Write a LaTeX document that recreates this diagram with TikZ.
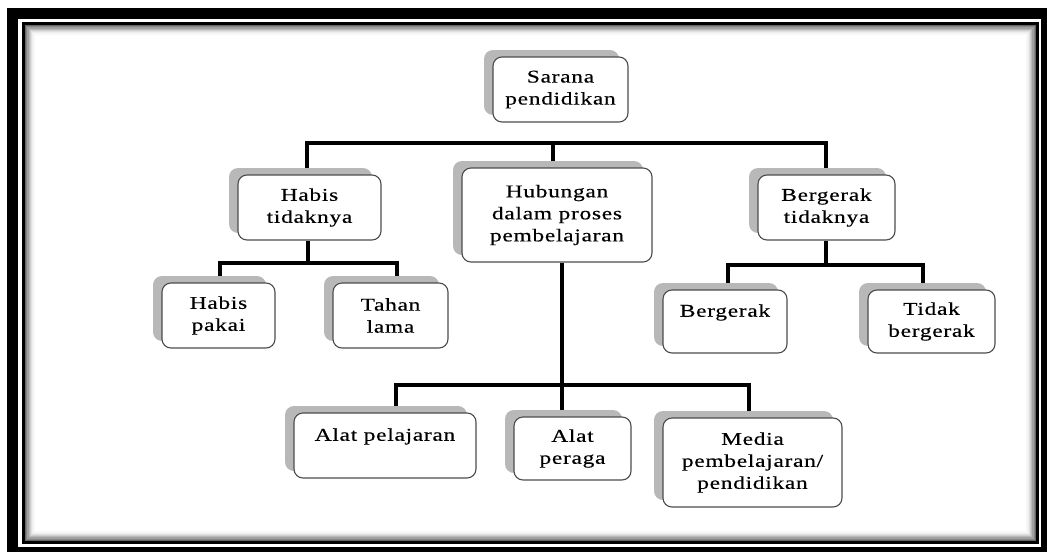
\documentclass[tikz,border=0pt]{standalone}
\usepackage{fontspec}
\setmainfont{Liberation Serif}[FakeStretch=1.3,LetterSpace=4,FakeBold=0.4]
\usetikzlibrary{shadows,backgrounds}
\tikzset{
  box/.style={draw=black!70, line width=1.1pt, fill=white, rounded corners=9pt,
    align=center, inner sep=0pt, font=\fontsize{18}{22}\selectfont,
    drop shadow={shadow xshift=-9pt, shadow yshift=7pt, fill=black!28, opacity=1}},
  conn/.style={draw=black, line width=4pt}
}
\begin{document}
\begin{tikzpicture}[x=1pt,y=-1pt]
\useasboundingbox (0,0) rectangle (1047,552);
\begin{pgfonlayer}{background}
  \fill[white] (0,0) rectangle (1047,552);
  \fill[black] (7,8) rectangle (1047,552);
  \fill[white] (18,19) rectangle (1041,547);
  \draw[black, line width=3pt] (23.5,23.5) rectangle (1037.5,542.5);
  \foreach \i/\c in {0/60,1/48,2/37,3/27,4/19,5/12,6/7,7/3}{
    \draw[black!\c, line width=1.2pt] (25.6+1.2*\i,25.6+1.2*\i) rectangle (1035.4-1.2*\i,540.4-1.2*\i);
  }
\end{pgfonlayer}

\node[box, minimum width=135pt, minimum height=65pt] (sarana) at (560.5,89.5) {Sarana\\pendidikan};
\node[box, minimum width=190pt, minimum height=94pt] (hub) at (557,215) {Hubungan\\dalam proses\\pembelajaran};
\node[box, minimum width=143pt, minimum height=65pt] (habist) at (309.5,207.5) {Habis\\tidaknya};
\node[box, minimum width=137pt, minimum height=65pt] (bergt) at (826.5,207.5) {Bergerak\\tidaknya};
\node[box, minimum width=113pt, minimum height=65pt] (habisp) at (218.5,315.5) {Habis\\pakai};
\node[box, minimum width=115pt, minimum height=65pt] (tahan) at (390.5,315.5) {Tahan\\lama};
\node[box, minimum width=124pt, minimum height=63pt] (bergerak) at (725,321.5) {Bergerak\\\mbox{}};
\node[box, minimum width=127pt, minimum height=63pt] (tidak) at (931.5,321.5) {Tidak\\bergerak};
\node[box, minimum width=182pt, minimum height=65pt] (alatpel) at (385,445.5) {Alat pelajaran\\\mbox{}};
\node[box, minimum width=117pt, minimum height=63pt] (alatper) at (572.5,448.5) {Alat\\peraga};
\node[box, minimum width=179pt, minimum height=89pt] (media) at (752.5,462.5) {Media\\pembelajaran/\\pendidikan};

\coordinate (tb) at (0,143);
\coordinate (hb) at (0,263);
\coordinate (gb) at (0,265);
\coordinate (bb) at (0,385);
\coordinate (ht) at ([xshift=-3pt]habist.north);
\coordinate (bt) at ([xshift=-1pt]bergt.north);
\coordinate (hn) at ([xshift=-4pt]hub.north);
\coordinate (hs) at ([xshift=5pt]hub.south);
\coordinate (hts) at ([xshift=-2pt]habist.south);
\coordinate (hp) at ([xshift=1pt]habisp.north);
\coordinate (tn) at ([xshift=6pt]tahan.north);
\coordinate (bts) at ([xshift=-1pt]bergt.south);
\coordinate (bn) at ([xshift=3pt]bergerak.north);
\coordinate (tdn) at ([xshift=-9pt]tidak.north);
\coordinate (apl) at ([xshift=11pt]alatpel.north);
\coordinate (mn) at ([xshift=-4pt]media.north);

\begin{pgfonlayer}{background}
  \draw[conn] (ht) -- (ht |- tb) -- (bt |- tb) -- (bt);
  \draw[conn] (hn) -- (hn |- tb);
  \draw[conn] (hts) -- (hts |- hb);
  \draw[conn] (hp) -- (hp |- hb) -- (tn |- hb) -- (tn);
  \draw[conn] (bts) -- (bts |- gb);
  \draw[conn] (bn) -- (bn |- gb) -- (tdn |- gb) -- (tdn);
  \draw[conn] (hs) -- (hs |- alatper.north);
  \draw[conn] (apl) -- (apl |- bb) -- (mn |- bb) -- (mn);
\end{pgfonlayer}
\end{tikzpicture}
\end{document}
